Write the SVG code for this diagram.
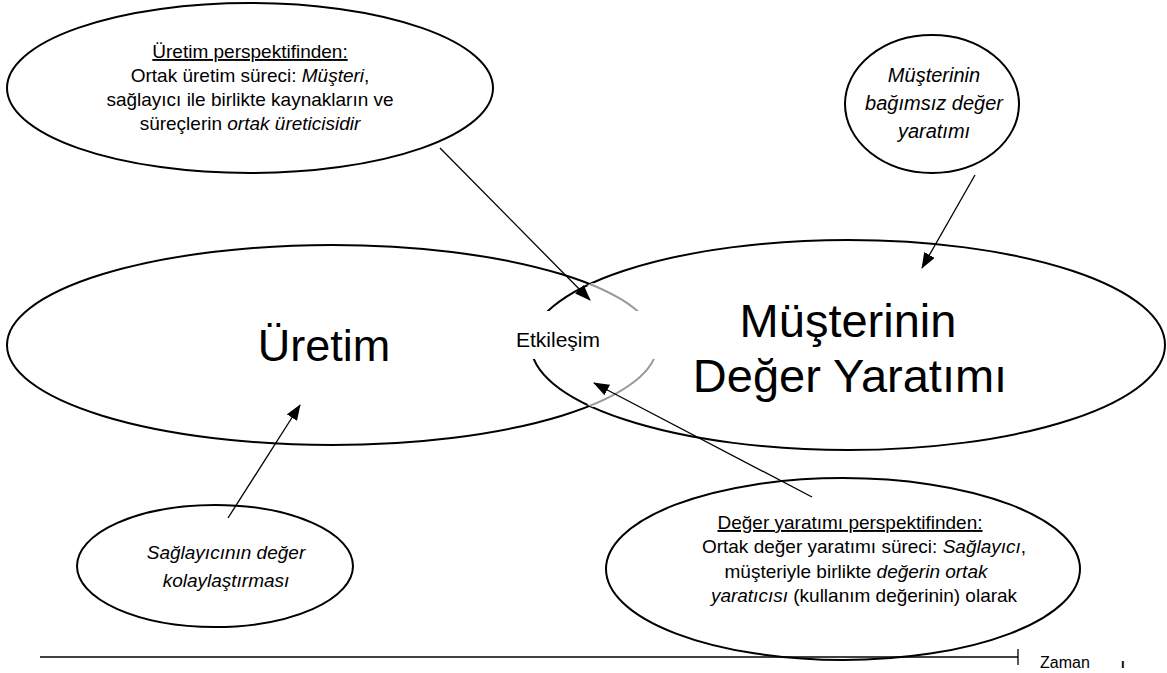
<svg xmlns="http://www.w3.org/2000/svg" width="1167" height="673" viewBox="0 0 1167 673">
<style>
.el{fill:none;stroke:#000;stroke-width:2}
.t{font-family:"Liberation Sans",Arial,sans-serif;font-size:19px;fill:#000;text-anchor:middle}
.big{font-size:47px}
.i{font-style:italic}
.u{text-decoration:underline}
.ar{stroke:#000;stroke-width:1.3;fill:none;marker-end:url(#ah)}
</style>
<defs>
<marker id="ah" markerWidth="16" markerHeight="12" refX="15" refY="6" orient="auto" markerUnits="userSpaceOnUse"><path d="M0,0 L16,6 L0,12 z" fill="#000"/></marker>
<clipPath id="inR"><ellipse cx="848" cy="345" rx="317" ry="105"/></clipPath>
</defs>
<rect width="1167" height="673" fill="#fff"/>
<g id="uretim">
<ellipse class="el" cx="332" cy="345" rx="325" ry="100"/>
<text class="t big" x="324" y="361" style="font-size:45px">Üretim</text>
</g>
<g id="musteri-deger">
<ellipse class="el" cx="848" cy="345" rx="317" ry="105"/>
<text class="t big" x="848" y="337">Müşterinin</text>
<text class="t big" x="850" y="392">Değer Yaratımı</text>
</g>
<g id="overlap" clip-path="url(#inR)">
<ellipse cx="332" cy="345" rx="325" ry="100" fill="none" stroke="#fff" stroke-width="4"/>
<ellipse cx="332" cy="345" rx="325" ry="100" fill="none" stroke="#999" stroke-width="2"/>
</g>
<g id="etkilesim">
<rect x="515" y="311" width="146" height="48" fill="#fff"/>
<text class="t" x="558" y="347" style="font-size:21px">Etkileşim</text>
</g>
<g id="uretim-perspektif">
<ellipse class="el" cx="250" cy="88" rx="243" ry="85"/>
<text class="t" x="250" y="58"><tspan class="u">Üretim perspektifinden:</tspan></text>
<text class="t" x="250" y="82">Ortak üretim süreci: <tspan class="i">Müşteri</tspan>,</text>
<text class="t" x="250" y="106">sağlayıcı ile birlikte kaynakların ve</text>
<text class="t" x="250" y="130">süreçlerin <tspan class="i">ortak üreticisidir</tspan></text>
</g>
<g id="bagimsiz">
<ellipse class="el" cx="932" cy="104" rx="87" ry="69"/>
<text class="t i" x="934" y="82" style="font-size:20px">Müşterinin</text>
<text class="t i" x="934" y="110" style="font-size:20px">bağımsız değer</text>
<text class="t i" x="934" y="138" style="font-size:20px">yaratımı</text>
</g>
<g id="kolaylastirma">
<ellipse class="el" cx="215" cy="566" rx="138" ry="61"/>
<text class="t i" x="226" y="559">Sağlayıcının değer</text>
<text class="t i" x="226" y="587">kolaylaştırması</text>
</g>
<g id="deger-perspektif">
<ellipse class="el" cx="843" cy="569" rx="237" ry="91"/>
<text class="t" x="850" y="529"><tspan class="u">Değer yaratımı perspektifinden:</tspan></text>
<text class="t" x="864" y="553">Ortak değer yaratımı süreci: <tspan class="i">Sağlayıcı</tspan>,</text>
<text class="t" x="856" y="578">müşteriyle birlikte <tspan class="i">değerin ortak</tspan></text>
<text class="t" x="864" y="602"><tspan class="i">yaratıcısı</tspan> (kullanım değerinin) olarak</text>
</g>
<g id="connectors">
<line class="ar" x1="440" y1="148" x2="590" y2="300"/>
<line class="ar" x1="975" y1="175" x2="922" y2="268"/>
<line class="ar" x1="228" y1="518" x2="300" y2="405"/>
<line class="ar" x1="812" y1="497" x2="594" y2="383"/>
</g>
<g id="zaman-ekseni">
<line x1="40" y1="657" x2="1018" y2="657" stroke="#000" stroke-width="1.3"/>
<line x1="1018" y1="649" x2="1018" y2="665" stroke="#000" stroke-width="1.3"/>
<text x="1040" y="668" font-family="Liberation Sans, Arial, sans-serif" font-size="16" fill="#000">Zaman</text>
<text x="1121" y="668" font-family="Liberation Sans, Arial, sans-serif" font-size="13" font-weight="bold" fill="#000">ı</text>
</g>
</svg>
